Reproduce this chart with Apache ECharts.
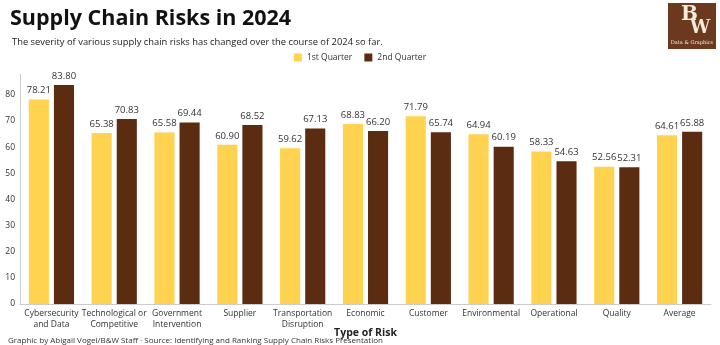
<!DOCTYPE html>
<html>
<head>
<meta charset="utf-8">
<script src="https://cdn.jsdelivr.net/npm/echarts@6/dist/echarts.min.js"></script>
<style>
html,body{margin:0;padding:0;background:#fff;}
#c{width:720px;height:345px;}
</style>
</head>
<body>
<div id="c"></div>
<script>
const categories = ["Cybersecurity\nand Data","Technological or\nCompetitive","Government\nIntervention","Supplier","Transportation\nDisruption","Economic","Customer","Environmental","Operational","Quality","Average"];
const q1 = [78.21,65.38,65.58,60.90,59.62,68.83,71.79,64.94,58.33,52.56,64.61];
const q2 = [83.80,70.83,69.44,68.52,67.13,66.20,65.74,60.19,54.63,52.31,65.88];
const seriesNames = ["1st Quarter","2nd Quarter"];

const FONT = "'Open Sans', 'Noto Sans', sans-serif";
const chart = echarts.init(document.getElementById('c'), null, {renderer:'canvas'});
const lbl = {show:true, position:'top', distance:4, fontFamily:FONT, fontSize:9.5, color:'#333', formatter: p => p.value.toFixed(2)};
chart.setOption({
  animation:false,
  textStyle:{fontFamily:FONT},
  title:[
    {text:'Supply Chain Risks in 2024', left:5, top:3, textStyle:{fontFamily:FONT, fontSize:21.5, fontWeight:'bold', color:'#111'}},
    {text:'The severity of various supply chain risks has changed over the course of 2024 so far.', left:7, top:33, textStyle:{fontFamily:FONT, fontSize:9.4, fontWeight:'normal', color:'#222'}},
    {text:'Graphic by Abigail Vogel/B&W Staff · Source: Identifying and Ranking Supply Chain Risks Presentation', left:3, top:332, textStyle:{fontFamily:FONT, fontSize:8, fontWeight:'normal', color:'#333'}}
  ],
  legend:{top:48, left:'center', itemWidth:8, itemHeight:8, itemGap:12, icon:'rect', textStyle:{fontFamily:FONT, fontSize:8.5, color:'#333'}, data:seriesNames},
  grid:{left:20, right:9, top:74, bottom:41, containLabel:false, outerBoundsMode:'none'},
  xAxis:{type:'category', data:categories, name:'Type of Risk', nameLocation:'middle', nameGap:24, nameMoveOverlap:false,
    nameTextStyle:{fontFamily:FONT, fontSize:10.5, fontWeight:'bold', color:'#222'},
    axisLine:{lineStyle:{color:'#ccc'}}, axisTick:{show:false},
    axisLabel:{interval:0, fontFamily:FONT, fontSize:8.5, color:'#333', lineHeight:11, margin:4}},
  yAxis:{type:'value', min:0, max:88, interval:10, splitLine:{show:false},
    axisLine:{show:true, lineStyle:{color:'#ccc'}}, axisTick:{show:false},
    axisLabel:{showMaxLabel:false, fontFamily:FONT, fontSize:8.5, color:'#333', margin:5}},
  series:[
    {name:seriesNames[0], type:'bar', data:q1, barWidth:'32%', barGap:'25%', itemStyle:{color:'#FFD24F'}, label:lbl},
    {name:seriesNames[1], type:'bar', data:q2, barWidth:'32%', barGap:'25%', itemStyle:{color:'#5B2C10'}, label:lbl}
  ],
  graphic:[
    {type:'group', left:668, top:3, children:[
      {type:'rect', shape:{x:0,y:0,width:48,height:46}, style:{fill:'#6B3A1E'}},
      {type:'text', x:13, y:2, style:{text:'B', font:"bold 20px 'DejaVu Serif', serif", fill:'#f3e9dc'}},
      {type:'text', x:22, y:16, style:{text:'W', font:"bold 18px 'DejaVu Serif', serif", fill:'#f3e9dc'}},
      {type:'text', x:24, y:37, style:{text:'Data & Graphics', font:"5px 'DejaVu Serif', serif", fill:'#f3e9dc', align:'center'}}
    ]}
  ]
});
</script>
</body>
</html>
